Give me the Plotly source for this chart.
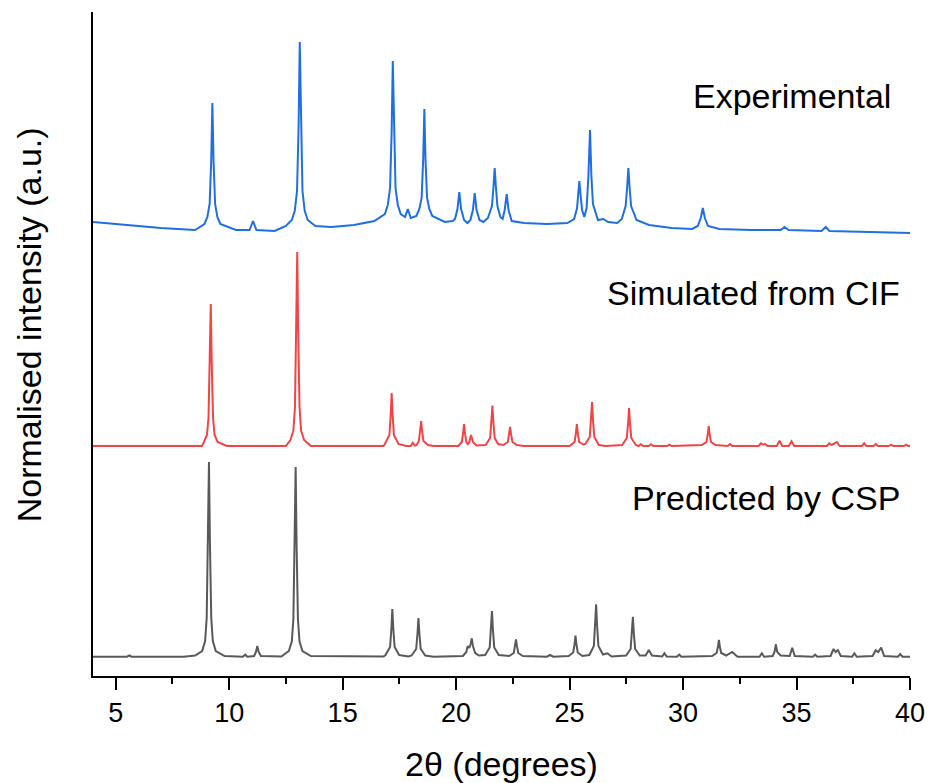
import plotly.graph_objects as go

# ---------------- data ----------------
# 2-theta (degrees) and normalised intensity (arbitrary, stacked offsets)
exp_x = [4.0, 5.5, 7.0, 8.5,
         8.91, 9.04, 9.14, 9.21, 9.26, 9.31, 9.38, 9.48, 9.61,
         10.3, 10.9, 11.05, 11.2, 12.0,
         12.5, 12.76, 12.89, 12.99, 13.06, 13.11, 13.16, 13.23, 13.33, 13.46, 13.8,
         14.5, 15.5, 16.4,
         16.86, 16.99, 17.09, 17.16, 17.21, 17.26, 17.33, 17.43, 17.56,
         17.75, 17.87, 18.0,
         18.25, 18.38, 18.48, 18.55, 18.60, 18.65, 18.72, 18.82, 18.95,
         19.5, 19.85,
         19.95, 20.06, 20.14, 20.22, 20.35, 20.5,
         20.63, 20.74, 20.82, 20.90, 21.03, 21.2,
         21.4, 21.58, 21.65, 21.70, 21.75, 21.82, 21.95, 22.05,
         22.14, 22.23, 22.31, 22.45,
         23.0, 24.0, 24.9,
         25.2, 25.33, 25.38, 25.43, 25.48, 25.55, 25.65,
         25.75, 25.83, 25.90, 25.96, 26.03, 26.25,
         26.48, 26.7, 27.1,
         27.3, 27.47, 27.54, 27.59, 27.64, 27.71, 27.95,
         28.5, 29.5, 30.4,
         30.65, 30.78, 30.87, 30.96, 31.1,
         31.6, 33.0, 34.3, 34.47, 34.65, 36.1, 36.29, 36.45, 38.0, 40.0]
exp_y = [454, 451, 448, 446,
         452, 459, 472, 516, 573, 516, 472, 459, 452,
         446, 446, 455, 446, 445,
         450, 456, 465, 485, 550, 634, 550, 485, 465, 456, 450,
         449, 451, 455,
         462, 471, 488, 545, 615, 545, 488, 471, 462,
         459, 467, 458,
         460, 467, 478, 517, 567, 517, 478, 467, 460,
         454, 455,
         457, 467, 484, 467, 456, 453,
         456, 466, 483, 466, 456, 454,
         458, 470, 490, 508, 490, 470, 459, 457,
         466, 482, 466, 455,
         453, 452, 453,
         457, 468, 482, 495, 482, 466, 459,
         468, 500, 546, 500, 472, 456,
         457, 454, 453,
         457, 470, 490, 508, 490, 470, 456,
         451, 448, 447,
         450, 458, 468, 458, 450,
         447, 446, 446, 449, 446, 445, 449, 445, 444, 443]

sim_x = [4.0, 8.8, 8.89, 9.02, 9.09, 9.15, 9.19, 9.23, 9.29, 9.36, 9.49, 9.9,
         12.5, 12.7, 12.83, 12.9, 12.96, 13.00, 13.04, 13.10, 13.17, 13.30, 13.6,
         16.8, 16.86, 17.06, 17.12, 17.16, 17.20, 17.26, 17.46, 17.8,
         18.0, 18.09, 18.18,
         18.26, 18.36, 18.42, 18.46, 18.50, 18.56, 18.76, 19.0,
         20.1, 20.25, 20.31, 20.35, 20.39, 20.45, 20.52,
         20.58, 20.66, 20.74, 20.9,
         21.3, 21.5, 21.56, 21.60, 21.64, 21.70, 21.85,
         22.08, 22.28, 22.34, 22.38, 22.42, 22.48, 22.68,
         23.0, 25.0, 25.22, 25.28, 25.32, 25.36, 25.42, 25.6,
         25.69, 25.89, 25.95, 25.99, 26.03, 26.09, 26.29, 26.6,
         27.32, 27.52, 27.58, 27.62, 27.66, 27.72, 27.92,
         28.04, 28.14, 28.24, 28.49, 28.59, 28.69, 29.3, 29.4, 29.5,
         30.83, 31.03, 31.09, 31.13, 31.17, 31.23, 31.43,
         31.97, 32.07, 32.17,
         33.33, 33.43, 33.52, 33.62, 33.72, 34.13, 34.25, 34.37,
         34.66, 34.78, 34.9,
         36.34, 36.44, 36.54, 36.78, 36.9, 37.88, 37.98, 38.08,
         38.39, 38.49, 38.59, 39.07, 39.17, 39.27, 39.73, 39.83, 39.93, 40.0]
sim_y = [230, 230, 234, 241, 258, 315, 372, 315, 258, 241, 234, 230,
         230, 236, 245.5, 269, 346, 424, 346, 269, 245.5, 236, 230,
         230, 232, 241, 262, 283, 262, 241, 232, 230,
         230, 233.3, 230.5,
         231, 235, 245, 255, 245, 235, 231, 230,
         230, 234, 243, 252, 243, 234, 232,
         234, 241, 234, 230.5,
         231, 238, 254, 270.5, 254, 238, 232,
         231, 234, 242, 249, 242, 234, 231,
         230, 230, 234, 243, 252, 243, 234, 231.5,
         232, 239, 256, 274, 256, 239, 231, 230,
         231, 238, 253, 268, 253, 238, 231,
         230, 231.7, 230, 230, 231.7, 230, 230, 231.3, 230,
         231, 234, 242, 250, 242, 234, 231,
         230, 232, 230,
         230, 232.7, 231.5, 232, 230, 230, 235.3, 230,
         230, 234.7, 230,
         230, 232.7, 231, 234, 230, 230, 232.7, 230,
         230, 232, 230, 230, 231.3, 230, 230, 231.3, 230, 230]

csp_x = [4.0, 5.5, 5.6, 5.7, 8.0, 8.5, 8.81, 8.94, 9.01, 9.07, 9.11, 9.15, 9.21, 9.28, 9.41, 9.8,
         10.6, 10.71, 10.8, 11.1, 11.18, 11.24, 11.30, 11.4,
         12.3, 12.63, 12.76, 12.83, 12.89, 12.93, 12.97, 13.03, 13.10, 13.23, 13.6,
         16.8, 16.89, 17.09, 17.15, 17.19, 17.23, 17.29, 17.49, 17.9,
         18.04, 18.24, 18.30, 18.34, 18.38, 18.44, 18.64, 19.0,
         20.3, 20.45, 20.51, 20.58, 20.64, 20.69, 20.74, 20.84, 21.0,
         21.28, 21.48, 21.54, 21.58, 21.62, 21.68, 21.88,
         22.34, 22.54, 22.60, 22.64, 22.68, 22.74, 22.94,
         24.0, 24.14, 24.28,
         24.96, 25.16, 25.22, 25.26, 25.30, 25.36, 25.56,
         25.87, 26.07, 26.13, 26.17, 26.21, 26.27, 26.47, 26.67, 26.85,
         27.49, 27.69, 27.75, 27.79, 27.83, 27.89, 28.09,
         28.35, 28.49, 28.63, 29.08, 29.18, 29.28, 29.73, 29.83, 29.93,
         31.28, 31.48, 31.54, 31.58, 31.62, 31.68, 31.9, 32.16, 32.4,
         33.37, 33.47, 33.57, 33.95, 34.03, 34.09, 34.15, 34.3,
         34.7, 34.81, 34.92, 35.72, 35.82, 35.92,
         36.5, 36.63, 36.72, 36.82, 36.95, 37.45, 37.55, 37.65,
         38.35, 38.49, 38.6, 38.73, 38.86, 39.47, 39.57, 39.67, 40.0]
csp_y = [19.3, 19.3, 20.5, 19.3, 19.3, 20.5, 25, 35, 58, 136, 214, 136, 58, 35, 25, 20,
         19.3, 21.3, 19.3, 20, 24, 30, 24, 20,
         19.5, 25, 34.5, 57, 133, 209, 133, 57, 34.5, 25, 20,
         19.5, 21, 29, 48, 67, 48, 29, 21, 19.5,
         20.5, 27, 43, 58, 43, 27, 20.5, 19.3,
         20, 24, 30, 28, 32, 37.7, 30, 23, 20.5,
         21, 28.5, 47, 65, 47, 28.5, 21,
         20, 23, 30, 36.7, 30, 23, 20,
         19.3, 21, 19.3,
         20, 23.5, 32, 40.3, 32, 23.5, 20,
         21, 30, 51, 71.7, 51, 30, 21.5, 22.7, 19.5,
         20.5, 27, 43, 59.3, 43, 27, 20.5,
         20.5, 26, 20.5, 19.5, 22.7, 19.5, 19.3, 21.3, 19.3,
         20, 23, 29.5, 36, 29.5, 23, 20.5, 24, 19.3,
         19.3, 22.7, 19.3, 20, 24, 31.7, 24, 20.5,
         20, 28.3, 20, 19.3, 21.3, 19.3,
         20, 27, 24, 26, 20, 19.3, 22.7, 19.3,
         20, 25.7, 24, 28.4, 20, 19.3, 22, 19.3, 19.3]

series_names = ["Experimental", "Simulated from CIF", "Predicted by CSP"]
series_colors = ["#1F6FE4", "#F24444", "#595959"]
label_x = [39.26, 39.65, 39.65]
label_y = [580, 383.5, 178.5]

x_ticks = [5, 10, 15, 20, 25, 30, 35, 40]
x_minor = [7.5, 12.5, 17.5, 22.5, 27.5, 32.5, 37.5]

# ---------------- figure ----------------
FONT = "Liberation Sans, Arial, sans-serif"
fig = go.Figure()
for xs, ys, name, col in zip([exp_x, sim_x, csp_x], [exp_y, sim_y, csp_y],
                             series_names, series_colors):
    fig.add_trace(go.Scatter(x=xs, y=ys, mode="lines", name=name,
                             line=dict(color=col, width=2)))

for name, lx, ly in zip(series_names, label_x, label_y):
    fig.add_annotation(x=lx, y=ly, xref="x", yref="y", text=name,
                       showarrow=False, xanchor="right", yanchor="middle",
                       font=dict(family=FONT, size=34, color="black"))

fig.add_annotation(x=-0.078, y=0.5286, xref="paper", yref="paper",
                   text="Normalised intensity (a.u.)", textangle=-90,
                   showarrow=False, xanchor="center", yanchor="middle",
                   font=dict(family=FONT, size=34, color="black"))

fig.update_layout(
    width=930, height=783,
    margin=dict(l=93, r=20, t=12, b=107, autoexpand=False),
    paper_bgcolor="white", plot_bgcolor="white",
    showlegend=False,
    font=dict(family=FONT, color="black"),
)
fig.update_xaxes(
    range=[4, 40], tickvals=x_ticks, ticktext=[str(t) for t in x_ticks],
    automargin=False,
    ticks="outside", ticklen=12, tickwidth=2, tickcolor="black",
    showline=True, linewidth=2, linecolor="black", mirror=False,
    showgrid=False, zeroline=False,
    tickfont=dict(family=FONT, size=27, color="black"),
    minor=dict(ticks="outside", tickvals=x_minor,
               ticklen=6, tickwidth=2, tickcolor="black", showgrid=False),
    title=dict(text="2θ (degrees)", font=dict(family=FONT, size=34, color="black"),
               standoff=26),
)
fig.update_yaxes(
    range=[0, 664], showticklabels=False, ticks="", automargin=False,
    showline=True, linewidth=2, linecolor="black",
    showgrid=False, zeroline=False,
)

fig.write_html("out.html")
